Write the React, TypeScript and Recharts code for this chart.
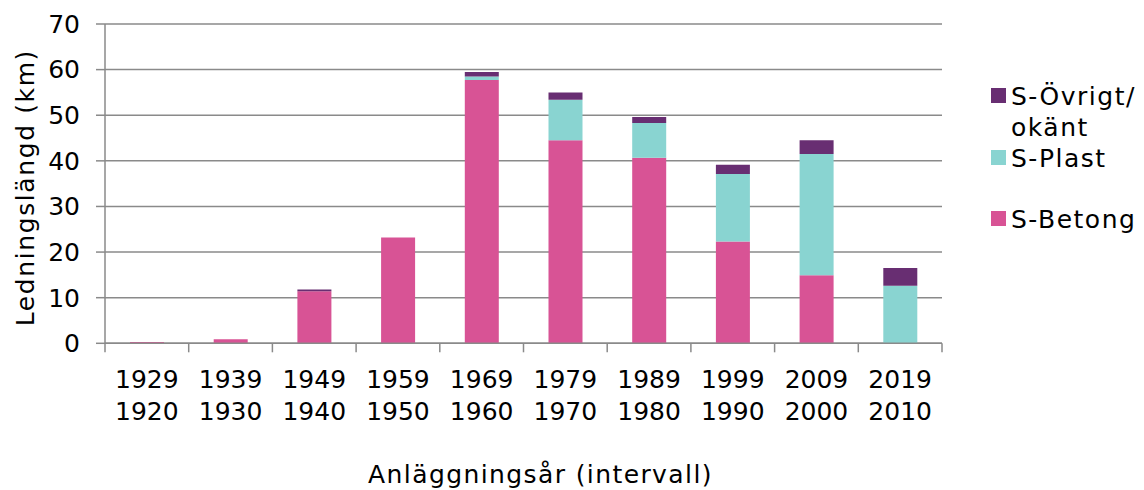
import React from "react";
import {
  BarChart,
  Bar,
  XAxis,
  YAxis,
  CartesianGrid,
  Legend,
} from "recharts";

// intervals: upper year on first line, lower year on second
const categories = [
  "1929\n1920",
  "1939\n1930",
  "1949\n1940",
  "1959\n1950",
  "1969\n1960",
  "1979\n1970",
  "1989\n1980",
  "1999\n1990",
  "2009\n2000",
  "2019\n2010",
];

const betong = [0.3, 0.9, 11.4, 23.2, 57.7, 44.5, 40.7, 22.3, 14.9, 0];
const plast = [0, 0, 0, 0, 0.8, 8.9, 7.6, 14.8, 26.6, 12.6];
const ovrigt = [0, 0, 0.4, 0, 0.95, 1.6, 1.3, 2.05, 3.0, 3.9];

const yTicks = [0, 10, 20, 30, 40, 50, 60, 70];

const FONT = "'DejaVu Sans', Verdana, sans-serif";
const GRID = "#8a8a8a";
const W = 1144;
const H = 490;
const LEFT = 105;
const RIGHT = 202;
const HALF_BAND = (W - LEFT - RIGHT) / categories.length / 2;

const data = categories.map((name, i) => ({
  name,
  betong: betong[i],
  plast: plast[i],
  ovrigt: ovrigt[i],
}));

const XTick = (props: any) => {
  const { x, y, payload, index } = props;
  const [top, bottom] = String(payload.value).split("\n");
  const last = index === categories.length - 1;
  return (
    <g>
      <line x1={x - HALF_BAND} x2={x - HALF_BAND} y1={y} y2={y + 9} stroke={GRID} strokeWidth={1.5} />
      {last && (
        <line x1={x + HALF_BAND} x2={x + HALF_BAND} y1={y} y2={y + 9} stroke={GRID} strokeWidth={1.5} />
      )}
      <text x={x} y={y + 45} textAnchor="middle" fontSize={25} fontFamily={FONT} fill="#000">
        {top}
      </text>
      <text x={x} y={y + 77} textAnchor="middle" fontSize={25} fontFamily={FONT} fill="#000">
        {bottom}
      </text>
    </g>
  );
};

const XTitle = (props: any) => {
  const { viewBox } = props;
  return (
    <text
      x={viewBox.x + viewBox.width / 2 + 17}
      y={viewBox.y + 140}
      textAnchor="middle"
      fontSize={25}
      fontFamily={FONT}
      letterSpacing={1.4}
      fill="#000"
    >
      Anläggningsår (intervall)
    </text>
  );
};

const YTitle = (props: any) => {
  const { viewBox } = props;
  const cx = 25;
  const cy = viewBox.y + viewBox.height / 2 + 4;
  return (
    <text
      x={cx}
      y={cy}
      transform={`rotate(-90 ${cx} ${cy})`}
      dy={9}
      textAnchor="middle"
      fontSize={25}
      fontFamily={FONT}
      letterSpacing={1.6}
      fill="#000"
    >
      Ledningslängd (km)
    </text>
  );
};

const LegendBox = (props: any) => {
  const items = [...(props.payload || [])].reverse();
  return (
    <div style={{ fontFamily: FONT, fontSize: 25, lineHeight: "31px", letterSpacing: 1.5, color: "#000" }}>
      {items.map((it: any) => {
        const parts = String(it.value).split("/");
        return (
          <div key={it.value} style={{ height: 61.5, display: "flex", alignItems: "flex-start" }}>
            <div style={{ width: 15, height: 15, marginTop: 7, marginRight: 5, background: it.color, flexShrink: 0 }} />
            <div style={{ whiteSpace: "nowrap" }}>
              {parts.length > 1 ? (
                <>
                  {parts[0]}/
                  <br />
                  {parts[1]}
                </>
              ) : (
                it.value
              )}
            </div>
          </div>
        );
      })}
    </div>
  );
};

export default function App() {
  return (
    <div style={{ width: W, height: H, background: "#fff", overflow: "hidden", position: "relative" }}>
      <style>{"html,body{margin:0;padding:0;overflow:hidden;}"}</style>
      <BarChart
        width={W}
        height={H}
        data={data}
        margin={{ top: 24, right: RIGHT, bottom: 0, left: 0 }}
      >
        <CartesianGrid vertical={false} stroke={GRID} strokeWidth={1.5} />
        <XAxis
          dataKey="name"
          height={146.7}
          interval={0}
          tickSize={0}
          tickMargin={0}
          tick={<XTick />}
          axisLine={{ stroke: GRID, strokeWidth: 1.5 }}
          label={{ content: <XTitle /> }}
        />
        <YAxis
          width={LEFT}
          domain={[0, 70]}
          ticks={yTicks}
          interval={0}
          tickSize={9}
          tickMargin={16}
          tick={{ fontSize: 25, fontFamily: FONT, fill: "#000" }}
          axisLine={{ stroke: GRID, strokeWidth: 1.5 }}
          tickLine={{ stroke: GRID, strokeWidth: 1.5 }}
          label={{ content: <YTitle /> }}
        />
        <Legend
          layout="vertical"
          align="center"
          verticalAlign="middle"
          content={<LegendBox />}
          wrapperStyle={{ left: 991, top: 81, width: 150, overflow: "visible" }}
        />
        <Bar dataKey="betong" name="S-Betong" stackId="a" fill="#d85395" barSize={34} isAnimationActive={false} />
        <Bar dataKey="plast" name="S-Plast" stackId="a" fill="#89d4d1" barSize={34} isAnimationActive={false} />
        <Bar dataKey="ovrigt" name="S-Övrigt/okänt" stackId="a" fill="#682e72" barSize={34} isAnimationActive={false} />
      </BarChart>
    </div>
  );
}
